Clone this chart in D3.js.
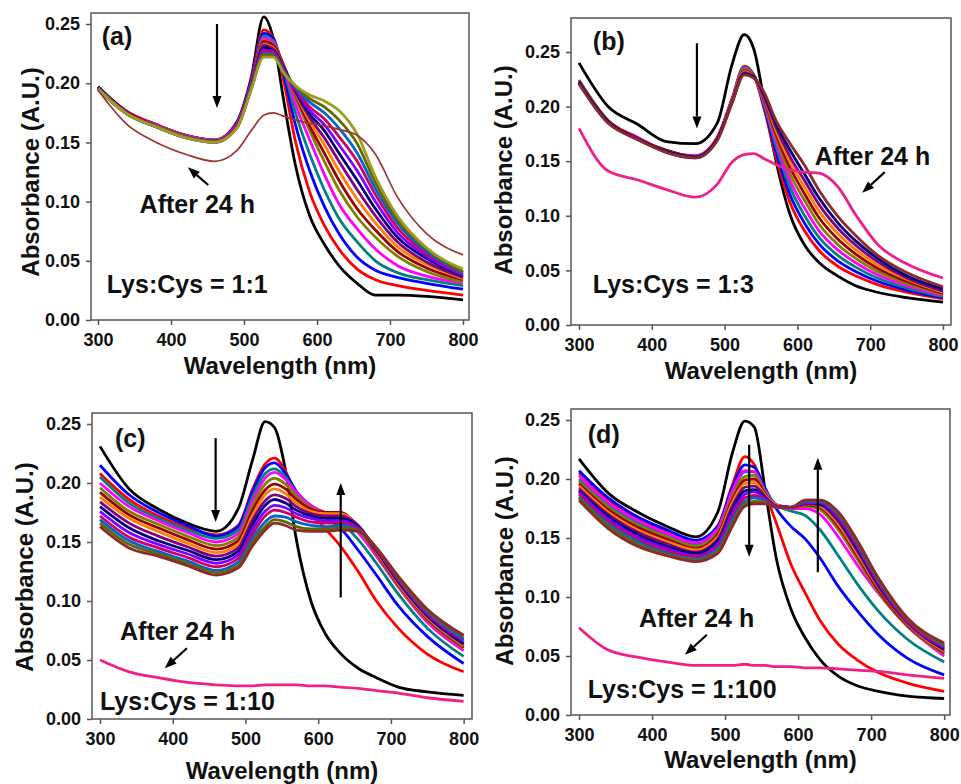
<!DOCTYPE html>
<html>
<head>
<meta charset="utf-8">
<script src="https://cdn.jsdelivr.net/npm/d3@7"></script>
<style>
body { margin: 0; background: #fff; }
text { font-family: "Liberation Sans", Arial, sans-serif; font-weight: bold; }
</style>
</head>
<body>
<div id="main"></div>
<script>
const wavelengths = [300,340,380,420,460,490,510,527,540,555,570,590,610,630,655,680,710,750,800];
const xTicks = [300,400,500,600,700,800];
const yTicks = [0,0.05,0.10,0.15,0.20,0.25];

// (a) Lys:Cys = 1:1
const aStart = [0.197,0.176,0.165,0.156,0.152,0.167,0.205,0.256,0.238,0.183,0.132,0.088,0.064,0.046,0.031,0.021,0.021,0.020,0.017];
const aSeries = [
  [0.196,0.176,0.165,0.156,0.152,0.166,0.203,0.245,0.238,0.200,0.152,0.108,0.080,0.060,0.043,0.034,0.029,0.025,0.021],
  [0.197,0.175,0.164,0.156,0.152,0.166,0.202,0.242,0.238,0.206,0.166,0.126,0.096,0.073,0.053,0.042,0.036,0.031,0.026],
  [0.196,0.175,0.164,0.155,0.151,0.165,0.200,0.240,0.236,0.210,0.176,0.140,0.110,0.086,0.066,0.050,0.040,0.034,0.029],
  [0.196,0.175,0.165,0.156,0.152,0.165,0.200,0.238,0.235,0.212,0.183,0.152,0.123,0.098,0.077,0.060,0.046,0.037,0.031],
  [0.196,0.175,0.164,0.155,0.151,0.164,0.199,0.236,0.233,0.214,0.189,0.160,0.134,0.110,0.087,0.070,0.054,0.041,0.032],
  [0.195,0.175,0.164,0.155,0.151,0.164,0.199,0.235,0.232,0.214,0.191,0.164,0.141,0.118,0.094,0.076,0.058,0.044,0.034],
  [0.196,0.174,0.164,0.155,0.151,0.164,0.198,0.233,0.230,0.213,0.192,0.168,0.148,0.126,0.102,0.082,0.062,0.047,0.035],
  [0.195,0.174,0.163,0.155,0.151,0.164,0.198,0.232,0.229,0.213,0.193,0.171,0.154,0.134,0.110,0.088,0.066,0.049,0.036],
  [0.196,0.175,0.164,0.155,0.151,0.163,0.197,0.230,0.228,0.212,0.194,0.174,0.160,0.141,0.118,0.094,0.070,0.052,0.037],
  [0.195,0.174,0.163,0.154,0.150,0.163,0.197,0.228,0.227,0.211,0.195,0.177,0.165,0.148,0.126,0.100,0.074,0.054,0.038],
  [0.196,0.175,0.164,0.155,0.151,0.163,0.196,0.227,0.226,0.210,0.196,0.180,0.170,0.155,0.134,0.106,0.078,0.056,0.039],
  [0.195,0.174,0.163,0.154,0.150,0.162,0.196,0.225,0.224,0.210,0.197,0.184,0.175,0.162,0.141,0.111,0.082,0.058,0.040],
  [0.196,0.174,0.164,0.155,0.151,0.162,0.195,0.224,0.223,0.209,0.198,0.187,0.180,0.169,0.149,0.116,0.085,0.060,0.041],
  [0.195,0.174,0.163,0.154,0.150,0.162,0.195,0.222,0.222,0.208,0.198,0.190,0.185,0.177,0.157,0.121,0.088,0.061,0.043]
];
const aAfter24h = [0.194,0.165,0.150,0.140,0.134,0.143,0.160,0.173,0.175,0.172,0.169,0.166,0.164,0.161,0.156,0.140,0.104,0.073,0.055];

// (b) Lys:Cys = 1:3
const bStart = [0.240,0.200,0.184,0.168,0.166,0.185,0.238,0.266,0.253,0.203,0.152,0.101,0.073,0.057,0.045,0.036,0.030,0.025,0.021];
const bSeries = [
  [0.224,0.187,0.172,0.159,0.155,0.172,0.207,0.237,0.229,0.196,0.155,0.112,0.086,0.068,0.054,0.045,0.037,0.030,0.024],
  [0.223,0.186,0.171,0.159,0.154,0.171,0.206,0.236,0.229,0.198,0.160,0.119,0.093,0.074,0.059,0.049,0.040,0.032,0.025],
  [0.224,0.187,0.171,0.160,0.154,0.171,0.206,0.236,0.229,0.200,0.165,0.126,0.100,0.080,0.064,0.053,0.043,0.034,0.026],
  [0.223,0.186,0.172,0.159,0.155,0.171,0.205,0.235,0.228,0.202,0.169,0.132,0.107,0.086,0.069,0.057,0.046,0.036,0.027],
  [0.222,0.186,0.171,0.159,0.154,0.170,0.205,0.234,0.228,0.204,0.173,0.138,0.114,0.092,0.074,0.061,0.049,0.038,0.028],
  [0.223,0.187,0.171,0.160,0.154,0.171,0.204,0.233,0.228,0.205,0.176,0.144,0.120,0.098,0.079,0.065,0.052,0.040,0.029],
  [0.222,0.186,0.170,0.159,0.154,0.170,0.204,0.232,0.227,0.207,0.179,0.149,0.126,0.104,0.084,0.069,0.055,0.042,0.030],
  [0.221,0.185,0.171,0.158,0.153,0.170,0.204,0.231,0.227,0.208,0.182,0.154,0.132,0.110,0.089,0.073,0.058,0.043,0.031],
  [0.222,0.186,0.170,0.159,0.154,0.170,0.203,0.230,0.227,0.210,0.185,0.160,0.138,0.116,0.094,0.077,0.061,0.045,0.033],
  [0.221,0.185,0.170,0.158,0.153,0.169,0.203,0.229,0.226,0.212,0.188,0.166,0.146,0.123,0.100,0.082,0.064,0.048,0.035]
];
const bAfter24h = [0.180,0.141,0.133,0.124,0.117,0.129,0.149,0.156,0.157,0.152,0.147,0.142,0.140,0.139,0.127,0.101,0.074,0.056,0.043];

// (c) Lys:Cys = 1:10
const cStart = [0.231,0.195,0.178,0.166,0.159,0.178,0.220,0.252,0.247,0.211,0.152,0.100,0.072,0.056,0.043,0.035,0.027,0.023,0.020];
const cSeries = [
  [0.208,0.186,0.172,0.162,0.156,0.164,0.195,0.216,0.221,0.210,0.190,0.175,0.161,0.147,0.125,0.100,0.077,0.055,0.040],
  [0.215,0.190,0.175,0.164,0.155,0.163,0.193,0.213,0.217,0.208,0.193,0.180,0.171,0.162,0.143,0.122,0.096,0.070,0.047],
  [0.205,0.183,0.170,0.160,0.153,0.160,0.189,0.208,0.212,0.205,0.192,0.181,0.173,0.167,0.152,0.132,0.106,0.077,0.053],
  [0.200,0.180,0.168,0.158,0.150,0.157,0.185,0.204,0.209,0.203,0.192,0.181,0.175,0.172,0.158,0.138,0.112,0.082,0.058],
  [0.196,0.176,0.165,0.155,0.147,0.154,0.181,0.199,0.204,0.199,0.189,0.179,0.175,0.174,0.161,0.140,0.113,0.084,0.060],
  [0.192,0.173,0.162,0.152,0.144,0.151,0.177,0.194,0.199,0.195,0.186,0.178,0.175,0.175,0.163,0.141,0.114,0.085,0.061],
  [0.188,0.170,0.159,0.149,0.141,0.148,0.173,0.190,0.195,0.191,0.183,0.176,0.174,0.174,0.164,0.142,0.115,0.086,0.062],
  [0.184,0.166,0.155,0.146,0.138,0.145,0.169,0.185,0.190,0.187,0.180,0.174,0.172,0.172,0.164,0.143,0.116,0.087,0.063],
  [0.180,0.162,0.151,0.143,0.135,0.142,0.165,0.181,0.186,0.183,0.177,0.172,0.170,0.170,0.163,0.143,0.117,0.088,0.064],
  [0.176,0.158,0.148,0.140,0.132,0.139,0.161,0.176,0.181,0.179,0.174,0.170,0.168,0.168,0.162,0.144,0.118,0.089,0.066],
  [0.172,0.154,0.145,0.137,0.129,0.136,0.157,0.172,0.177,0.175,0.171,0.167,0.166,0.166,0.161,0.144,0.119,0.090,0.067],
  [0.169,0.151,0.142,0.134,0.126,0.133,0.153,0.167,0.172,0.171,0.167,0.164,0.163,0.164,0.160,0.145,0.120,0.091,0.068],
  [0.166,0.148,0.140,0.132,0.124,0.130,0.150,0.163,0.169,0.167,0.163,0.161,0.161,0.162,0.160,0.145,0.120,0.092,0.070],
  [0.163,0.145,0.138,0.130,0.122,0.128,0.147,0.160,0.166,0.164,0.160,0.159,0.159,0.160,0.159,0.145,0.121,0.093,0.071]
];
const cAfter24h = [0.050,0.040,0.035,0.031,0.029,0.028,0.028,0.029,0.029,0.029,0.029,0.028,0.028,0.027,0.026,0.024,0.022,0.018,0.015];

// (d) Lys:Cys = 1:100
const dStart = [0.217,0.188,0.172,0.160,0.151,0.172,0.222,0.249,0.244,0.190,0.133,0.090,0.065,0.047,0.033,0.025,0.020,0.016,0.014];
const dSeries = [
  [0.205,0.182,0.167,0.156,0.147,0.160,0.195,0.219,0.212,0.188,0.163,0.128,0.103,0.080,0.060,0.047,0.036,0.027,0.020],
  [0.207,0.184,0.168,0.157,0.148,0.160,0.193,0.212,0.210,0.192,0.175,0.160,0.149,0.133,0.109,0.089,0.068,0.048,0.034],
  [0.200,0.178,0.163,0.153,0.145,0.157,0.188,0.206,0.206,0.190,0.178,0.173,0.169,0.157,0.135,0.112,0.088,0.064,0.045],
  [0.203,0.180,0.165,0.154,0.146,0.158,0.190,0.207,0.206,0.189,0.178,0.175,0.175,0.170,0.151,0.128,0.103,0.075,0.050],
  [0.198,0.176,0.161,0.151,0.143,0.155,0.185,0.202,0.203,0.188,0.178,0.176,0.177,0.174,0.157,0.133,0.104,0.075,0.052],
  [0.196,0.174,0.159,0.149,0.141,0.153,0.182,0.199,0.200,0.187,0.178,0.176,0.178,0.176,0.160,0.136,0.106,0.076,0.053],
  [0.194,0.172,0.157,0.147,0.140,0.151,0.180,0.196,0.197,0.186,0.178,0.176,0.179,0.177,0.162,0.138,0.108,0.077,0.054],
  [0.192,0.170,0.155,0.145,0.138,0.149,0.177,0.193,0.194,0.185,0.177,0.176,0.179,0.178,0.164,0.140,0.109,0.078,0.055],
  [0.190,0.168,0.153,0.143,0.137,0.147,0.174,0.190,0.191,0.184,0.177,0.176,0.180,0.179,0.166,0.142,0.111,0.079,0.056],
  [0.189,0.166,0.151,0.141,0.135,0.145,0.171,0.187,0.189,0.183,0.177,0.176,0.180,0.180,0.167,0.144,0.112,0.079,0.057],
  [0.187,0.164,0.149,0.139,0.134,0.143,0.168,0.184,0.186,0.182,0.176,0.176,0.181,0.181,0.169,0.145,0.113,0.080,0.058],
  [0.185,0.162,0.147,0.137,0.132,0.141,0.165,0.181,0.184,0.181,0.176,0.176,0.181,0.181,0.170,0.147,0.114,0.081,0.059],
  [0.184,0.160,0.145,0.136,0.131,0.139,0.162,0.179,0.181,0.180,0.176,0.176,0.182,0.182,0.171,0.148,0.115,0.081,0.060],
  [0.182,0.158,0.143,0.135,0.130,0.137,0.160,0.177,0.179,0.179,0.176,0.176,0.182,0.182,0.172,0.149,0.116,0.082,0.061]
];
const dAfter24h = [0.074,0.055,0.049,0.045,0.042,0.042,0.042,0.043,0.042,0.042,0.041,0.041,0.040,0.040,0.039,0.038,0.037,0.034,0.031];

const ratioLabels = ["Lys:Cys = 1:1", "Lys:Cys = 1:3", "Lys:Cys = 1:10", "Lys:Cys = 1:100"];
const panelLetters = ["(a)", "(b)", "(c)", "(d)"];

// Origin-like line colours, cycled through the time series
const seriesColors = ["#FF0000","#0000FF","#008080","#FF00FF","#808000","#990000","#FF8000",
                      "#800080","#000080","#8000FF","#CC0066","#0066CC","#666600","#8B2A2A"];

const svg = d3.select("#main").append("svg")
    .attr("width", 961)
    .attr("height", 784);

function drawArrow(g, x1, y1, x2, y2) {
    const ang = Math.atan2(y2 - y1, x2 - x1);
    const hl = 12, hw = 4.5;
    const bx = x2 - hl * Math.cos(ang), by = y2 - hl * Math.sin(ang);
    g.append("line")
        .attr("x1", x1).attr("y1", y1).attr("x2", bx).attr("y2", by)
        .attr("stroke", "#000").attr("stroke-width", 2.2);
    g.append("path")
        .attr("d", `M${x2},${y2}L${bx - hw * Math.sin(ang)},${by + hw * Math.cos(ang)}L${bx + hw * Math.sin(ang)},${by - hw * Math.cos(ang)}Z`)
        .attr("fill", "#000");
}

function drawPanel(p) {
    const [left, top, right, bottom] = p.box;
    const x = d3.scaleLinear().domain(p.xDom).range([left, right]);
    const y = d3.scaleLinear().domain([0, p.yMax]).range([bottom, top]);
    const g = svg.append("g");

    // axes
    const xAxis = d3.axisBottom(x).tickValues(xTicks).tickSize(5).tickPadding(8);
    const yAxis = d3.axisLeft(y).tickValues(yTicks).tickFormat(d3.format(".2f")).tickSize(5).tickPadding(6);
    const gx = g.append("g").attr("transform", `translate(0,${bottom})`).call(xAxis);
    const gy = g.append("g").attr("transform", `translate(${left},0)`).call(yAxis);
    [gx, gy].forEach(a => {
        a.select(".domain").remove();
        a.selectAll("line").attr("stroke", "#555").attr("stroke-width", 1.5);
        a.selectAll("text").attr("fill", "#111").style("font-size", "18px");
    });

    // lines
    const line = d3.line()
        .x((d, i) => x(wavelengths[i]))
        .y(d => y(d))
        .curve(d3.curveMonotoneX);

    g.append("path").attr("d", line(p.start))
        .attr("fill", "none").attr("stroke", "#000").attr("stroke-width", 2.8);
    p.series.forEach((s, i) => {
        let col = seriesColors[i % seriesColors.length];
        if (i === p.series.length - 1) col = p.lastColor;
        g.append("path").attr("d", line(s))
            .attr("fill", "none").attr("stroke", col).attr("stroke-width", 2.8)
            .attr("stroke-linejoin", "round");
    });
    g.append("path").attr("d", line(p.after))
        .attr("fill", "none").attr("stroke", p.afterColor).attr("stroke-width", p.afterWidth);

    // frame
    g.append("rect")
        .attr("x", left).attr("y", top)
        .attr("width", right - left).attr("height", bottom - top)
        .attr("fill", "none").attr("stroke", "#555").attr("stroke-width", 1.5);

    // axis titles
    g.append("text")
        .attr("x", (left + right) / 2).attr("y", bottom + p.xTitleOff)
        .attr("text-anchor", "middle").style("font-size", "24px").attr("fill", "#111")
        .text("Wavelength (nm)");
    g.append("text")
        .attr("transform", `translate(${left - p.yTitleOff},${p.yTitleY}) rotate(-90)`)
        .attr("text-anchor", "middle").style("font-size", "24px").attr("fill", "#111")
        .text("Absorbance (A.U.)");

    // annotations
    g.append("text").attr("x", x(p.letterAt[0])).attr("y", y(p.letterAt[1]))
        .style("font-size", "25px").attr("fill", "#111").text(p.letter);
    g.append("text").attr("x", x(p.ratioAt[0])).attr("y", y(p.ratioAt[1]))
        .style("font-size", "25px").attr("fill", "#111").text(p.ratio);
    g.append("text").attr("x", x(p.afterAt[0])).attr("y", y(p.afterAt[1]))
        .style("font-size", "25px").attr("fill", "#111").text("After 24 h");
    p.arrows.forEach(a => drawArrow(g, x(a[0]), y(a[1]), x(a[2]), y(a[3])));
}

const panels = [
    { box: [91, 13, 469, 320], xDom: [290.4, 808.2], yMax: 0.2593,
      start: aStart, series: aSeries, after: aAfter24h, lastColor: "#9C9C20",
      afterColor: "#9B3535", afterWidth: 1.7,
      letter: panelLetters[0], letterAt: [305, 0.232], ratio: ratioLabels[0], ratioAt: [312, 0.023],
      afterAt: [357, 0.090],
      arrows: [[463, 0.25, 463, 0.179], [451, 0.114, 423, 0.129]],
      xTitleOff: 54, yTitleOff: 52, yTitleY: 172 },
    { box: [571, 18, 951, 325], xDom: [289, 811], yMax: 0.2811,
      start: bStart, series: bSeries, after: bAfter24h, lastColor: "#8B2A2A",
      afterColor: "#F0208A", afterWidth: 2.8,
      letter: panelLetters[1], letterAt: [319, 0.252], ratio: ratioLabels[1], ratioAt: [319, 0.029],
      afterAt: [624, 0.1465],
      arrows: [[462, 0.258, 462, 0.180], [720, 0.140, 689, 0.121]],
      xTitleOff: 54, yTitleOff: 59, yTitleY: 170 },
    { box: [92, 413, 472, 719], xDom: [289, 811.5], yMax: 0.2593,
      start: cStart, series: cSeries, after: cAfter24h, lastColor: "#8B2A2A",
      afterColor: "#F0208A", afterWidth: 2.8,
      letter: panelLetters[2], letterAt: [320.6, 0.2305], ratio: ratioLabels[2], ratioAt: [300, 0.0076],
      afterAt: [327.5, 0.067],
      arrows: [[459, 0.238, 459, 0.167], [631, 0.103, 631, 0.200], [419.5, 0.060, 389, 0.043]],
      xTitleOff: 60, yTitleOff: 59, yTitleY: 567 },
    { box: [571, 409, 950, 715], xDom: [289, 808], yMax: 0.2593,
      start: dStart, series: dSeries, after: dAfter24h, lastColor: "#8B2A2A",
      afterColor: "#F0208A", afterWidth: 2.8,
      letter: panelLetters[3], letterAt: [312, 0.2305], ratio: ratioLabels[3], ratioAt: [312, 0.0144],
      afterAt: [382, 0.0746],
      arrows: [[533, 0.229, 533, 0.134], [627, 0.121, 627, 0.218], [475, 0.068, 445, 0.051]],
      xTitleOff: 53, yTitleOff: 58, yTitleY: 561 }
];

panels.forEach(drawPanel);
</script>
</body>
</html>
